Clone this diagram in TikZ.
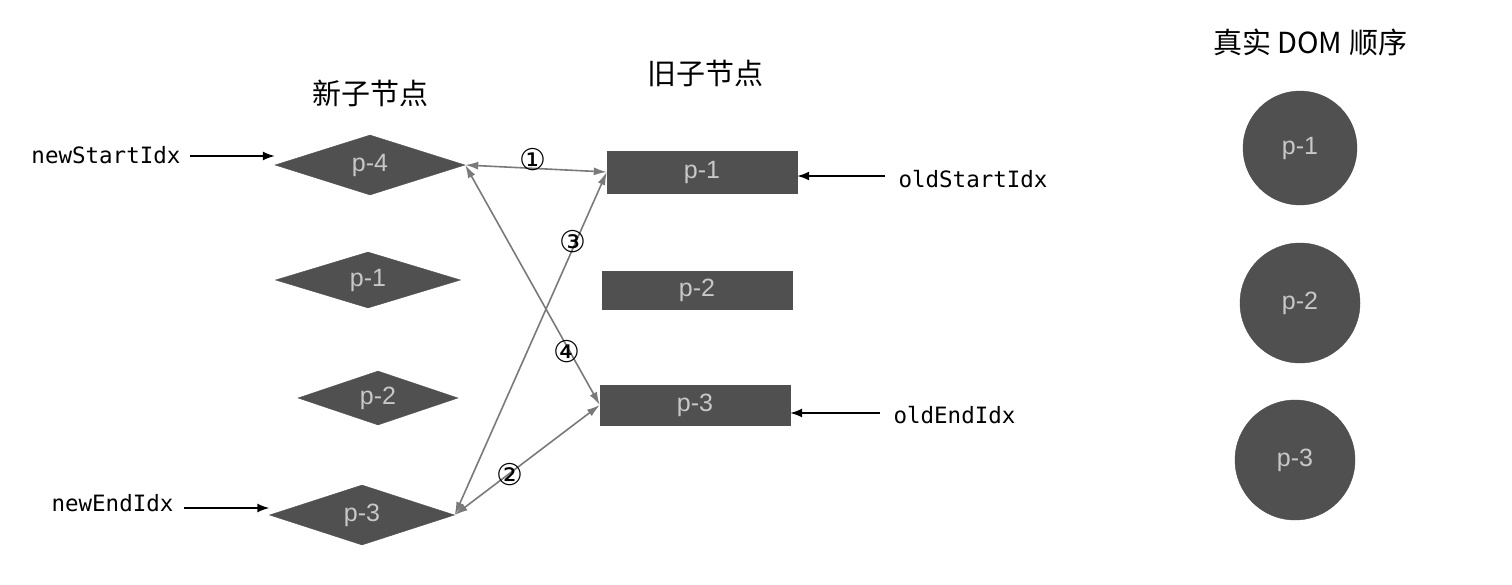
\documentclass[tikz,border=0pt]{standalone}
\usepackage{fontspec}
\setmainfont{Liberation Sans}
\newfontfamily\cjk{Noto Sans CJK SC}
\newfontfamily\monof{DejaVu Sans Mono}
\newfontfamily\dejav{DejaVu Sans}
\usetikzlibrary{shapes.geometric,arrows.meta}
\definecolor{boxc}{HTML}{505050}
\definecolor{txtc}{HTML}{C8C8C8}
\definecolor{linec}{HTML}{7A7A7A}
\begin{document}
\begin{tikzpicture}[x=1pt,y=-1pt,
  dia/.style={diamond,aspect=3.2,fill=boxc,draw=boxc,inner sep=0pt,font=\fontsize{25}{27}\selectfont,text=txtc},
  rbox/.style={rectangle,fill=boxc,draw=boxc,font=\fontsize{25}{27}\selectfont,text=txtc,minimum height=42,minimum width=190},
  circ/.style={circle,fill=boxc,draw=black!70,font=\fontsize{25}{27}\selectfont,text=txtc},
  idx/.style={font=\monof\fontsize{22.5}{24}\selectfont},
  ptr/.style={-{Latex[length=12,width=9]},line width=1.5pt,black},
  conn/.style={{Latex[length=13,width=8]}-{Latex[length=13,width=8]},line width=1.6pt,linec},
  head/.style={font=\cjk\fontsize{29}{31}\selectfont},
  num/.style={font=\dejav\fontsize{30}{32}\selectfont},
  lbl/.style={fill=white,inner sep=0pt}]
\useasboundingbox[fill=white] (0,0) rectangle (1512,584);
\node[head] (hn) at (370,93) {新子节点};
\node[head] (ho) at (705,73) {旧子节点};
\node[head] (hd) at (1310,42) {真实 DOM 顺序};
\node[dia,minimum width=190,minimum height=60] (n4) at (370,165) {p-4};
\node[dia,minimum width=185,minimum height=56] (n1) at (368,280) {p-1};
\node[dia,minimum width=160,minimum height=54] (n2) at (378,398) {p-2};
\node[dia,minimum width=185,minimum height=60] (n3) at (362,515) {p-3};
\node[rbox] (o1) at (702,172) {p-1};
\node[rbox,minimum height=38] (o2) at (697,290) {p-2};
\node[rbox,minimum height=40] (o3) at (695,405) {p-3};
\node[circ,minimum size=114] (c1) at (1300,148) {p-1};
\node[circ,minimum size=120] (c2) at (1300,303) {p-2};
\node[circ,minimum size=120] (c3) at (1295,460) {p-3};
\node[idx,anchor=east] (nsi) at (184,155) {newStartIdx};
\node[idx,anchor=east] (nei) at (177,503) {newEndIdx};
\node[idx,anchor=west] (osi) at (895,179) {oldStartIdx};
\node[idx,anchor=west] (oei) at (890,415) {oldEndIdx};
\coordinate (a1) at (190,156);
\coordinate (a2) at (184,508);
\coordinate (a3) at (885,176);
\coordinate (a4) at (880,413);
\draw[ptr] (a1) -- (n4.west |- a1);
\draw[ptr] (a2) -- (n3.west |- a2);
\draw[ptr] (a3) -- (o1.east |- a3);
\draw[ptr] (a4) -- (o3.east |- a4);
\draw[conn] (n4.east) -- (o1.west);
\draw[conn] (n3.east) -- (o3.west);
\draw[conn] (n3.east) -- (o1.west);
\draw[conn] (n4.east) -- (o3.west);
\node[num] (l1) at (533,160) {①};
\node[num] (l2) at (510,475) {②};
\node[num] (l3) at (573,242) {③};
\node[num] (l4) at (567,352) {④};
\end{tikzpicture}
\end{document}
